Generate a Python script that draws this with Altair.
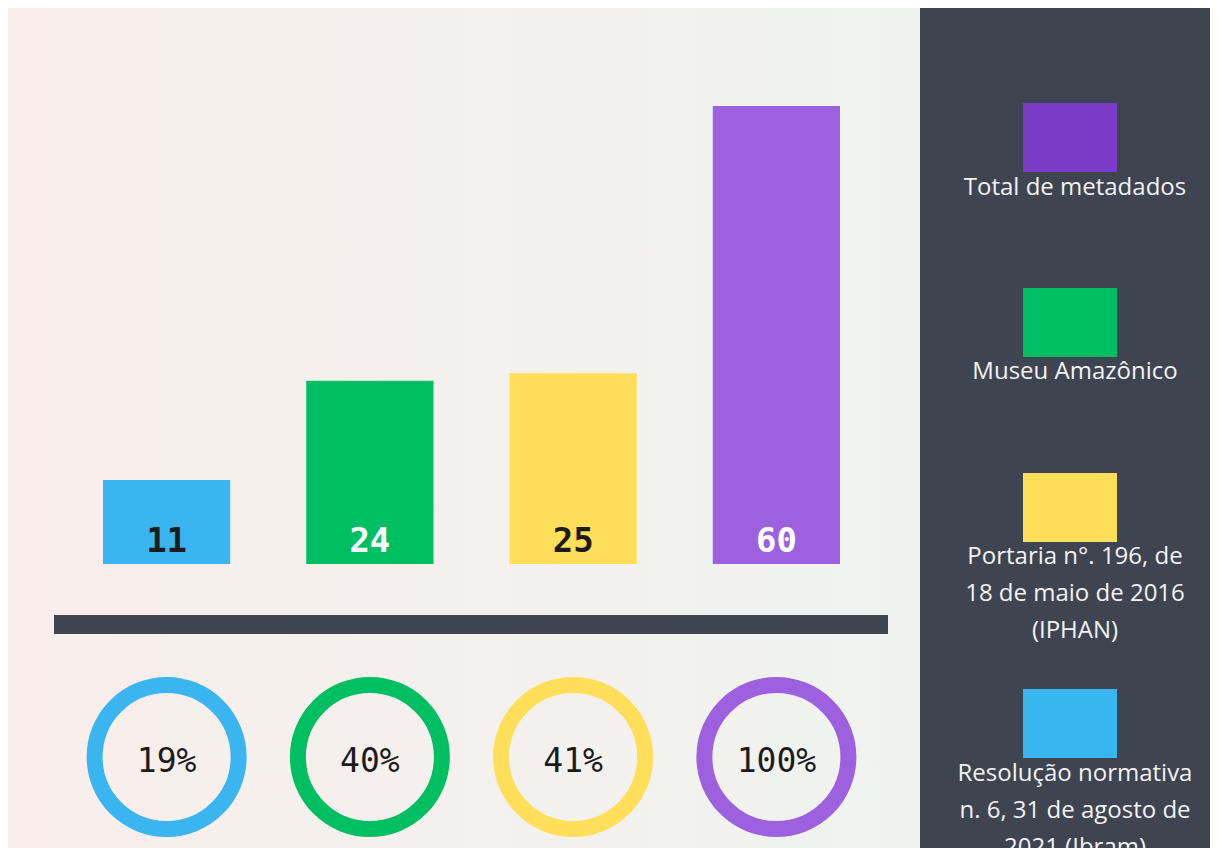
import altair as alt
import pandas as pd

# ---- data ----
categories = ["Resolução normativa", "Museu Amazônico", "Portaria n°. 196", "Total de metadados"]
values = [11, 24, 25, 60]
percents = ["19%", "40%", "41%", "100%"]

legend_keys = ["Total de metadados", "Museu Amazônico", "Portaria n°. 196", "Resolução normativa"]
legend_texts = [
    "Total de metadados",
    "Museu Amazônico",
    "Portaria n°. 196, de\n18 de maio de 2016\n(IPHAN)",
    "Resolução normativa\nn. 6, 31 de agosto de\n2021 (Ibram)",
]

# ---- styles ----
bar_colors = ["#3bb5ef", "#00bf63", "#ffde59", "#9d61e0"]
label_colors = ["#1c1c1c", "#ffffff", "#1c1c1c", "#ffffff"]
legend_colors = ["#7a3bc6", "#00bf63", "#ffde59", "#38b6f0"]
DARK = "#3f4451"

W, H = 1202, 840

df = pd.DataFrame({
    "category": categories,
    "value": values,
    "pct": percents,
    "lc": label_colors,
})

# legend slots: one per entry, with a little extra room after multi-line labels
extra = 0.084
slots, s = [], 0.0
for i, t in enumerate(legend_texts):
    slots.append(s)
    s += 1 + extra * t.count("\n")
leg = pd.DataFrame({
    "key": legend_keys,
    "text": legend_texts,
    "slot": slots,
    "legc": legend_colors,
})

x_enc = alt.X("category:N", sort=categories, axis=None,
              scale=alt.Scale(domain=categories, range=[95, 832],
                              paddingInner=0.374, paddingOuter=0))
color_enc = alt.Color("category:N", legend=None,
                      scale=alt.Scale(domain=categories, range=bar_colors))

grad = alt.Gradient(
    gradient="linear",
    stops=[alt.GradientStop(color="#f9eeeb", offset=0),
           alt.GradientStop(color="#eff3f0", offset=1)],
    x1=0, x2=1, y1=0, y2=0,
)

bg = alt.Chart(df).mark_rect(color=grad).encode(
    x=alt.value(0), x2=alt.value(912), y=alt.value(0), y2=alt.value(H))
panel = alt.Chart(df).mark_rect(color=DARK).encode(
    x=alt.value(912), x2=alt.value(W), y=alt.value(0), y2=alt.value(H))
baseline = alt.Chart(df).mark_rect(color=DARK).encode(
    x=alt.value(46), x2=alt.value(880), y=alt.value(607), y2=alt.value(626))

bars = alt.Chart(df).mark_bar().encode(
    x=x_enc,
    y=alt.Y("value:Q", axis=None, scale=alt.Scale(domain=[0, 60], range=[556, 98])),
    color=color_enc,
)
bar_labels = alt.Chart(df).mark_text(
    font="DejaVu Sans Mono", fontWeight="bold", fontSize=34, baseline="middle"
).encode(
    x=x_enc,
    y=alt.value(534),
    text="value:Q",
    color=alt.Color("lc:N", scale=None),
)

rings = alt.Chart(df).mark_point(
    shape="circle", filled=False, size=144 * 144, strokeWidth=16, opacity=1
).encode(x=x_enc, y=alt.value(749), color=color_enc)

pct_text = alt.Chart(df).mark_text(
    font="DejaVu Sans Mono", fontSize=33, baseline="middle", color="#1c1c1c"
).encode(x=x_enc, y=alt.value(754), text="pct:N")

leg_y = alt.Y("slot:Q", axis=None,
              scale=alt.Scale(domain=[0, max(slots)], range=[129.5, 715.5]))
leg_sq = alt.Chart(leg).mark_point(
    shape="M-1,-0.734L1,-0.734L1,0.734L-1,0.734Z", filled=True,
    size=94 * 94, strokeWidth=0, opacity=1
).encode(x=alt.value(1062), y=leg_y, color=alt.Color("legc:N", scale=None))

leg_txt = alt.Chart(leg).mark_text(
    font="Open Sans", fontSize=24, color="#f2f2f2", align="center",
    baseline="top", dy=38, lineHeight=37, lineBreak="\n"
).encode(x=alt.value(1067), y=leg_y, text="text:N")

chart = alt.layer(
    bg, panel, baseline, bars, bar_labels, rings, pct_text, leg_sq, leg_txt
).resolve_scale(y="independent", color="independent").properties(
    width=W, height=H, padding=0, autosize="none", background="white"
).configure_view(stroke=None)

chart.save("out.html", embed_options={"renderer": "svg", "actions": False})
